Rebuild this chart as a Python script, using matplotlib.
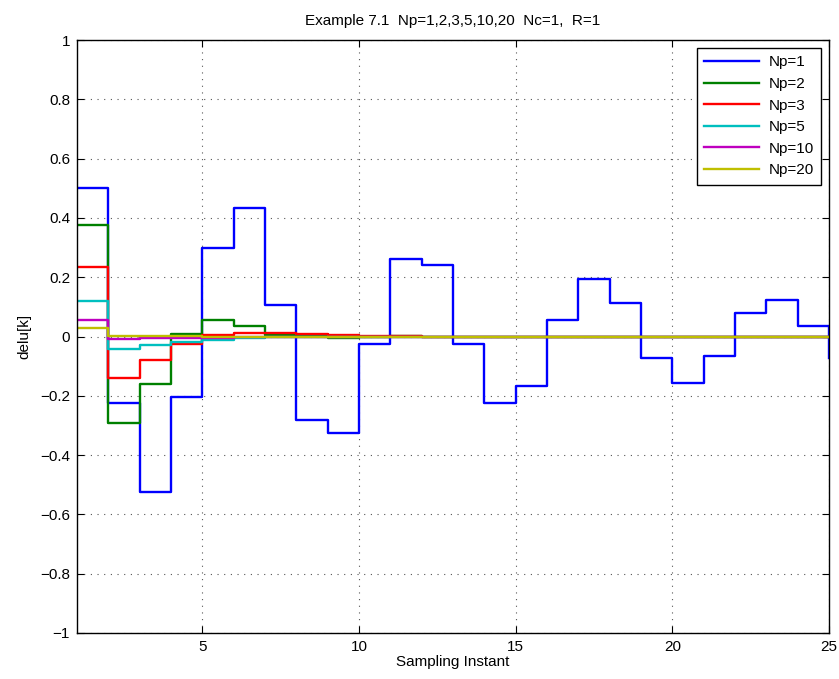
"""Example 7.1: control increments delu[k] for several prediction horizons."""

import matplotlib
matplotlib.use('Agg')
import matplotlib.pyplot as plt
from matplotlib.ticker import FuncFormatter

plt.rcParams['font.family'] = ['Liberation Sans', 'DejaVu Sans']

k = list(range(1, 26))

delu_np1 = [0.500, -0.225, -0.525, -0.205, 0.300, 0.433, 0.106, -0.282, -0.327,
            -0.025, 0.260, 0.240, -0.024, -0.225, -0.166, 0.057, 0.193, 0.113,
            -0.071, -0.156, -0.067, 0.079, 0.124, 0.035, -0.074]
delu_np2 = [0.377, -0.292, -0.160, 0.008, 0.056, 0.037, 0.004, 0.002, -0.004,
            -0.003, 0.001, 0.0, 0.0, 0.0, 0.0, 0.0, 0.0, 0.0, 0.0, 0.0, 0.0,
            0.0, 0.0, 0.0, 0.0]
delu_np3 = [0.236, -0.140, -0.079, -0.025, 0.006, 0.011, 0.011, 0.009, 0.006,
            0.003, 0.001, 0.0, 0.0, 0.0, 0.0, 0.0, 0.0, 0.0, 0.0, 0.0, 0.0,
            0.0, 0.0, 0.0, 0.0]
delu_np5 = [0.121, -0.043, -0.028, -0.017, -0.011, -0.006, -0.003, -0.002,
            -0.001, 0.0, 0.0, 0.0, 0.0, 0.0, 0.0, 0.0, 0.0, 0.0, 0.0, 0.0,
            0.0, 0.0, 0.0, 0.0, 0.0]
delu_np10 = [0.054, -0.007, -0.006, -0.005, -0.004, -0.003, -0.002, -0.002,
             -0.001, -0.001, 0.0, 0.0, 0.0, 0.0, 0.0, 0.0, 0.0, 0.0, 0.0, 0.0,
             0.0, 0.0, 0.0, 0.0, 0.0]
delu_np20 = [0.030, 0.002, 0.001, 0.001, 0.0, 0.0, 0.0, 0.0, 0.0, 0.0, 0.0,
             0.0, 0.0, 0.0, 0.0, 0.0, 0.0, 0.0, 0.0, 0.0, 0.0, 0.0, 0.0, 0.0,
             0.0]

series = [
    ('Np=1', delu_np1, (0, 0, 1)),
    ('Np=2', delu_np2, (0, 0.5, 0)),
    ('Np=3', delu_np3, (1, 0, 0)),
    ('Np=5', delu_np5, (0, 0.75, 0.75)),
    ('Np=10', delu_np10, (0.75, 0, 0.75)),
    ('Np=20', delu_np20, (0.75, 0.75, 0)),
]


def matlab_label(value, _pos):
    text = f'{value:.1f}'.rstrip('0').rstrip('.')
    if text in ('-0', ''):
        text = '0'
    return text.replace('-', '\u2212')


fig = plt.figure(figsize=(8.39, 6.79), dpi=100)
ax = fig.add_axes([77 / 839, 46 / 679, 752 / 839, 593 / 679])

for label, values, color in series:
    ax.step(k, values, where='post', color=color, linewidth=1.7, label=label)

ax.set_xlim(1, 25)
ax.set_ylim(-1, 1)
ax.set_xticks([5, 10, 15, 20, 25])
ax.set_yticks([round(-1 + 0.2 * i, 1) for i in range(11)])
ax.yaxis.set_major_formatter(FuncFormatter(matlab_label))
ax.tick_params(direction='in', top=True, right=True, labelsize=11, length=5,
               pad=5)
ax.grid(True, linestyle=(0, (1, 5)), color='#555555', linewidth=0.8)
for spine in ax.spines.values():
    spine.set_linewidth(1.0)

ax.set_title('Example 7.1  Np=1,2,3,5,10,20  Nc=1,  R=1', fontsize=11, pad=11)
ax.set_xlabel('Sampling Instant', fontsize=11, labelpad=1)
ax.set_ylabel('delu[k]', fontsize=11, labelpad=6)

leg = ax.legend(loc='upper right', fontsize=11, fancybox=False,
                edgecolor='k', framealpha=1, borderaxespad=0.5,
                handlelength=3.6, labelspacing=0.5, borderpad=0.5,
                handletextpad=0.6)
leg.get_frame().set_linewidth(1.0)

fig.savefig('out.png', dpi=100)
